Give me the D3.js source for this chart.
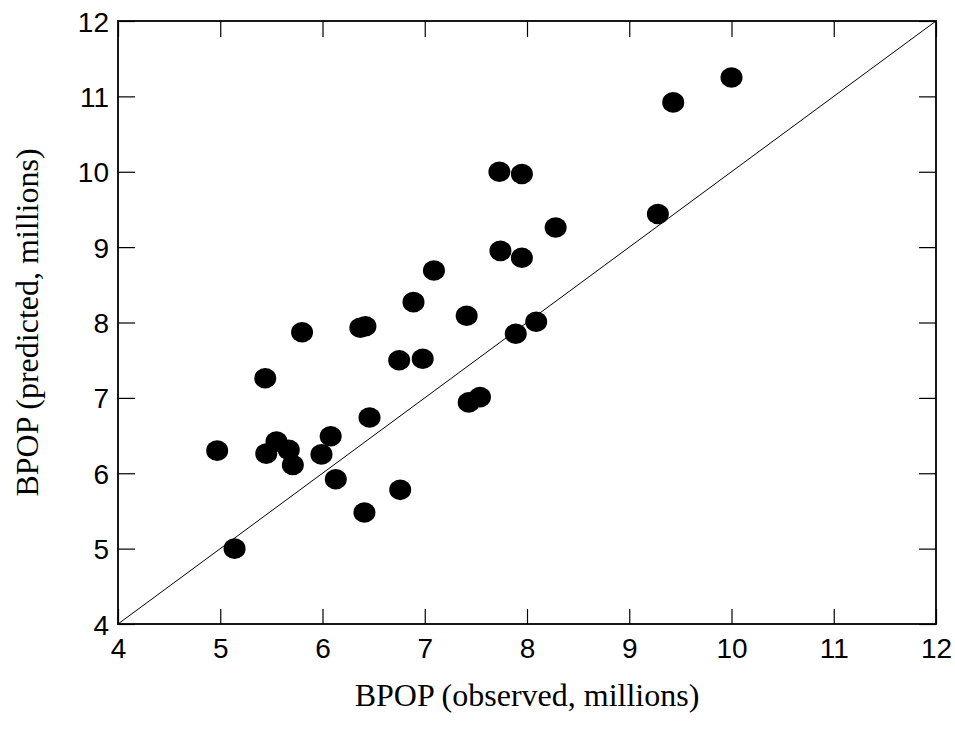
<!DOCTYPE html>
<html>
<head>
<meta charset="utf-8">
<script src="https://cdn.jsdelivr.net/npm/d3@7"></script>
<style>
  body { margin: 0; background: #fff; }
  svg { display: block; }
</style>
</head>
<body>
<div id="chart"></div>
<script>
// valeurs
const observed = [4.97, 5.44, 5.80, 6.37, 6.42, 5.45, 5.55, 5.67, 5.71, 5.99, 6.08, 6.46, 6.13, 6.41, 5.14,
                  7.73, 7.95, 8.28, 7.74, 7.95, 7.09, 6.89, 7.41, 6.75, 6.98, 7.89, 8.09, 7.43, 7.54,
                  6.76, 9.43, 10.00, 9.28];
const predicted = [6.30, 7.26, 7.87, 7.93, 7.95, 6.26, 6.42, 6.31, 6.11, 6.25, 6.49, 6.74, 5.92, 5.48, 5.00,
                   10.00, 9.97, 9.26, 8.95, 8.86, 8.69, 8.27, 8.09, 7.50, 7.52, 7.85, 8.01, 6.94, 7.01,
                   5.78, 10.92, 11.25, 9.44];
const tickValues = [4, 5, 6, 7, 8, 9, 10, 11, 12];
const xLabel = 'BPOP (observed, millions)';
const yLabel = 'BPOP (predicted, millions)';

const width = 955, height = 742;
const margin = { top: 21, right: 19, bottom: 118, left: 118 };
const innerW = width - margin.left - margin.right;
const innerH = height - margin.top - margin.bottom;

const svg = d3.select('#chart')
    .append('svg')
    .attr('width', width)
    .attr('height', height);

const g = svg.append('g')
    .attr('transform', `translate(${margin.left},${margin.top})`);

const x = d3.scaleLinear().domain([4, 12]).range([0, innerW]);
const y = d3.scaleLinear().domain([4, 12]).range([innerH, 0]);

const tickFont = '"Liberation Sans", Arial, sans-serif';
const titleFont = '"Liberation Serif", "Times New Roman", serif';

// ticks vers l'intérieur, sur les quatre côtés
function styleAxis(sel) {
    sel.select('.domain').remove();
    sel.selectAll('.tick line').attr('stroke', '#000').attr('stroke-width', 1.2);
    sel.selectAll('.tick text')
        .style('font-family', tickFont)
        .style('font-size', '28px')
        .attr('fill', '#000');
}

g.append('g')
    .attr('transform', `translate(0,${innerH})`)
    .call(d3.axisBottom(x).tickValues(tickValues).tickSize(-15).tickFormat(d3.format('d')))
    .call(styleAxis)
    .call(s => s.selectAll('.tick text').attr('y', 34).attr('dy', 0));

g.append('g')
    .call(d3.axisTop(x).tickValues(tickValues).tickSize(-16).tickFormat(''))
    .call(styleAxis);

g.append('g')
    .call(d3.axisLeft(y).tickValues(tickValues).tickSize(-17).tickFormat(d3.format('d')))
    .call(styleAxis)
    .call(s => s.selectAll('.tick text').attr('x', -9).attr('dy', '0.36em'));

g.append('g')
    .attr('transform', `translate(${innerW},0)`)
    .call(d3.axisRight(y).tickValues(tickValues).tickSize(-17).tickFormat(''))
    .call(styleAxis);

// cadre
g.append('rect')
    .attr('width', innerW)
    .attr('height', innerH)
    .attr('fill', 'none')
    .attr('stroke', '#000')
    .attr('stroke-width', 1.8);

// diagonale y = x
g.append('line')
    .attr('x1', x(4)).attr('y1', y(4))
    .attr('x2', x(12)).attr('y2', y(12))
    .attr('stroke', '#000')
    .attr('stroke-width', 1);

// points
const points = observed.map((v, i) => ({ obs: v, pred: predicted[i] }));
g.selectAll('.pt')
    .data(points)
    .enter()
    .append('ellipse')
    .attr('class', 'pt')
    .attr('cx', d => x(d.obs))
    .attr('cy', d => y(d.pred))
    .attr('rx', 11)
    .attr('ry', 10.3)
    .attr('fill', '#000');

// titres des axes
svg.append('text')
    .attr('x', margin.left + innerW / 2)
    .attr('y', 706)
    .attr('text-anchor', 'middle')
    .style('font-family', titleFont)
    .style('font-size', '32px')
    .text(xLabel);

svg.append('text')
    .attr('transform', `translate(38,${margin.top + innerH / 2}) rotate(-90)`)
    .attr('text-anchor', 'middle')
    .style('font-family', titleFont)
    .style('font-size', '32px')
    .text(yLabel);
</script>
</body>
</html>
